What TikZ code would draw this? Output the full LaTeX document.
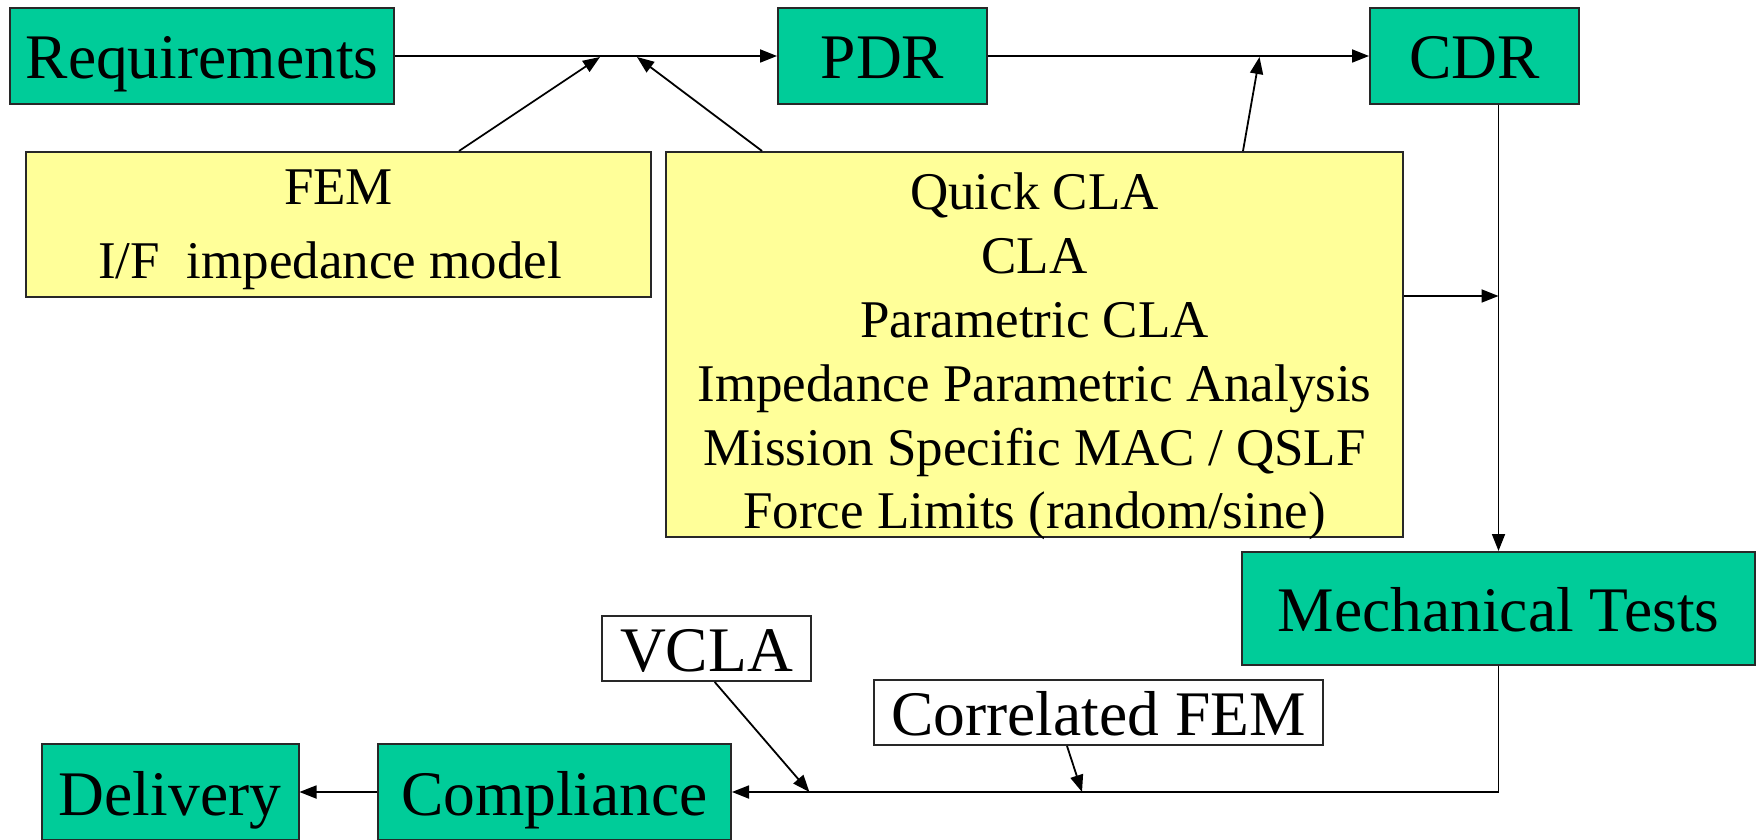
\documentclass[tikz,border=0pt]{standalone}
\usepackage{fontspec}
\setmainfont{Liberation Serif}
\usetikzlibrary{arrows.meta}
\definecolor{boxgreen}{RGB}{0,204,153}
\definecolor{boxyellow}{RGB}{255,255,153}
\definecolor{edgegray}{RGB}{40,40,40}
\begin{document}
\begin{tikzpicture}[x=1pt,y=1pt,
  greenbox/.style={draw=edgegray, line width=2pt, fill=boxgreen, inner sep=0pt,
    text height=46pt, text depth=0pt, font=\fontsize{63.5}{70}\selectfont},
  whitebox/.style={greenbox, fill=white},
  yellowbox/.style={draw=edgegray, line width=2pt, fill=boxyellow, inner sep=0pt},
  ytext/.style={anchor=base, inner sep=0pt, font=\fontsize{53}{60}\selectfont},
  conn/.style={line width=1.8pt, -{Triangle[length=17pt,width=13pt]}},
  plainline/.style={line width=1.8pt}
]
\useasboundingbox (0,0) rectangle (1759,839);

% boxes
\node[greenbox, minimum width=384pt, minimum height=96pt] (req) at (202,783) {Requirements};
\node[greenbox, minimum width=209pt, minimum height=96pt] (pdr) at (882.5,783) {PDR};
\node[greenbox, minimum width=209pt, minimum height=96pt] (cdr) at (1474.5,783) {CDR};
\node[yellowbox, minimum width=625pt, minimum height=145pt] (fem) at (338.5,614.5) {};
\node[yellowbox, minimum width=737pt, minimum height=385pt] (cla) at (1034.5,494.5) {};
\node[greenbox, minimum width=513pt, minimum height=113pt] (mt) at (1498.5,230.5) {Mechanical Tests};
\node[whitebox, minimum width=449pt, minimum height=65pt] (corr) at (1098.5,126.5) {Correlated FEM};
\node[whitebox, minimum width=209pt, minimum height=65pt] (vcla) at (706.5,190.5) {VCLA};
\node[greenbox, minimum width=353pt, minimum height=96pt] (comp) at (554.5,47) {Compliance};
\node[greenbox, minimum width=257pt, minimum height=96pt] (del) at (170,47) {Delivery};

% yellow box texts
\node[ytext] (fem1) at (338.5,634) {FEM};
\node[ytext] (fem2) at (330,560) {I/F\ \ impedance model};
\node[ytext] (cl1) at (1034.5,629.5) {Quick CLA};
\node[ytext] (cl2) at (1034.5,565.6) {CLA};
\node[ytext] (cl3) at (1034.5,501.7) {Parametric CLA};
\node[ytext] (cl4) at (1034.5,437.8) {Impedance Parametric Analysis};
\node[ytext] (cl5) at (1034.5,373.9) {Mission Specific MAC / QSLF};
\node[ytext] (cl6) at (1034.5,310.0) {Force Limits (random/sine)};

% junction points
\coordinate (j1) at (600,782);
\coordinate (j2) at (637,782);
\coordinate (j3) at (1259.5,782);
\coordinate (j4) at (1498.5,543);
\coordinate (j5) at (1082,47);
\coordinate (j6) at (809.4,47);

% connectors
\draw[conn] (req.east) -- (pdr.west);
\draw[conn] (pdr.east) -- (cdr.west);
\draw[conn] ([xshift=120.5pt]fem.north) -- (j1);
\draw[conn] ([xshift=-272.5pt]cla.north) -- (j2);
\draw[conn] ([xshift=208.5pt]cla.north) -- (j3);
\draw[conn] (mt.north |- cdr.south) -- (mt.north);
\draw[conn] ([yshift=48.5pt]cla.east) -- (j4);
\draw[conn] (mt.south) |- (comp.east);
\draw[conn] ([xshift=-31.5pt]corr.south) -- (j5);
\draw[conn] ([xshift=8.2pt]vcla.south) -- (j6);
\draw[conn] (comp.west) -- (del.east);
\end{tikzpicture}
\end{document}
